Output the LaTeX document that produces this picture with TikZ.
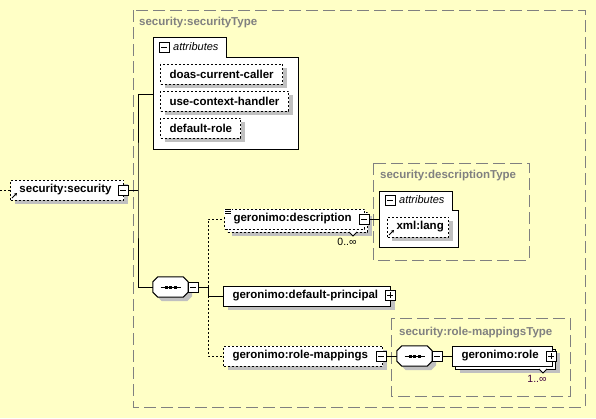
\documentclass[tikz,border=0pt]{standalone}
\usepackage{fontspec}
\setmainfont{Liberation Sans}
\usepackage{tikz}
\usetikzlibrary{shadows,arrows.meta}

\exhyphenpenalty=10000
\hyphenpenalty=10000

\definecolor{paper}{RGB}{255,255,198}
\definecolor{typegray}{RGB}{128,128,128}
\definecolor{shade}{RGB}{192,192,192}
\definecolor{occur}{RGB}{64,0,64}

\tikzset{
  elembox/.style={draw, fill=white, line width=1pt, anchor=west,
    inner xsep=9pt, inner ysep=0pt, minimum height=20pt,
    text width=#1, align=left,
    font=\fontsize{11.5}{13}\selectfont\bfseries},
  elem/.style={elembox=#1, drop shadow={shadow xshift=4pt, shadow yshift=-4pt, opacity=1, fill=shade}},
  optional/.style={dash pattern=on 2pt off 2pt},
  typebox/.style={draw=typegray, line width=1pt, dash pattern=on 12pt off 5pt},
  typename/.style={anchor=west, text=typegray, inner sep=0pt, font=\fontsize{11.5}{13}\selectfont\bfseries},
  attrgroup/.style={draw, fill=white, line width=1pt},
  attrname/.style={anchor=west, inner sep=0pt, font=\fontsize{11}{13}\selectfont\itshape},
  occ/.style={inner sep=0pt, font=\fontsize{10.5}{12}\selectfont},
  link/.style={line width=1pt},
  refarrow/.style={line width=1pt, -{Stealth[length=3pt,width=3.5pt]}},
  pmbox/.style={draw, fill=white, line width=0.8pt, minimum size=10pt, inner sep=0pt},
  collapse/.style={pmbox, path picture={
      \draw[line width=0.8pt] ([xshift=2pt]path picture bounding box.west) -- ([xshift=-2pt]path picture bounding box.east);}},
  expand/.style={pmbox, path picture={
      \draw[line width=0.8pt] ([xshift=2pt]path picture bounding box.west) -- ([xshift=-2pt]path picture bounding box.east);
      \draw[line width=0.8pt] ([yshift=-2pt]path picture bounding box.north) -- ([yshift=2pt]path picture bounding box.south);}},
  seqbox/.style={inner sep=0pt, minimum width=35pt, minimum height=20pt},
  seqedge/.style={draw, fill=white, line width=1pt,
    drop shadow={shadow xshift=4pt, shadow yshift=-4pt, opacity=1, fill=shade}}
}

% octagon of a sequence compositor, drawn round a named node
\newcommand{\seqoutline}[1]{%
  \draw[seqedge] ([xshift=5pt]#1.north west) -- ([xshift=-5pt]#1.north east)
    -- ([yshift=-5pt]#1.north east) -- ([yshift=5pt]#1.south east)
    -- ([xshift=-5pt]#1.south east) -- ([xshift=5pt]#1.south west)
    -- ([yshift=5pt]#1.south west) -- ([yshift=-5pt]#1.north west) -- cycle;
  \draw[link] ([xshift=-10pt]#1.center) -- ([xshift=10pt]#1.center);
  \foreach \dx in {-4.5,0,4.5}
    \fill ([xshift=\dx pt]#1.center) +(-1.5,-1.5) rectangle +(1.5,1.5);}

\begin{document}
\begin{tikzpicture}[x=1pt, y=-1pt]
% page and background
\fill[paper] (0,0) rectangle (596,418);
\useasboundingbox (0,0) rectangle (596,418);

% complex types
\draw[typebox] (133,10) rectangle (585,407);
\node[typename] (sectype) at (139,23) {security:securityType};
\draw[typebox] (373,163) rectangle (529,260);
\node[typename] (desctype) at (380,176) {security:descriptionType};
\draw[typebox] (391,318) rectangle (570,396);
\node[typename] (roletype) at (399,333) {security:role-mappingsType};

% attributes of security:securityType
\draw[attrgroup] (153,37) -- (226,37) -- (226,57) -- (298,57) -- (298,149) -- (153,149) -- cycle;
\node[collapse] (attam) at (164,47) {};
\node[attrname] (attat) at (173,47) {attributes};
\node[elem=104pt, optional] (doas) at (160,74) {doas-current-caller};
\node[elem=110pt, optional] (usectx) at (160,101) {use-context-handler};
\node[elem=62pt, optional] (defrole) at (160,128) {default-role};
\coordinate (attrsec) at (153,94);

% root element
\coordinate (start) at (0,190);
\node[elem=95pt, optional] (sec) at (10,190) {security:security};
\node[collapse] (secm) at (123,190) {};
\draw[link, optional] (start) -- (sec);
\draw[refarrow] ([xshift=2pt,yshift=2.5pt]sec.south west) -- ++(5,-5);

% sequence
\node[seqbox] (seqa) at (170.5,287) {};
\seqoutline{seqa}
\node[collapse] (seqam) at (193,287) {};
\coordinate (ja) at (138,190);
\draw[link] (secm) -- (ja);
\draw[link] (attrsec) -| (ja) |- (seqa);

% geronimo:description
\node[elem=122pt, optional] (descb) at (227,222) {};
\node[elembox=122pt, optional] (desc) at (224,219) {geronimo:description};
\fill[white] (desc.north west) rectangle ++(8,6);
\foreach \k in {0,2,4}
  \draw[line width=0.8pt] ([xshift=1pt,yshift=-\k pt-0.5pt]desc.north west) -- ++(6,0);
\node[collapse] (descm) at (364,219) {};
\draw[line width=0.8pt, fill=white] (349,232) -- (353,236) -- (357,232);
\node[occ] (descocc) at (347,242) {0..∞};

% attributes of security:descriptionType
\draw[attrgroup] (379,191) -- (452,191) -- (452,210) -- (458,210) -- (458,247) -- (379,247) -- cycle;
\node[collapse] (attbm) at (390,200) {};
\node[attrname] (attbt) at (399,200) {attributes};
\node[elem=43pt, optional] (xmllang) at (387,227) {xml:lang};
\draw[refarrow] ([xshift=2pt,yshift=2.5pt]xmllang.south west) -- ++(5,-5);
\coordinate (attrdesc) at (379,219);
\draw[link] (descm) -- (attrdesc);

% geronimo:default-principal
\node[elem=149pt] (defp) at (223,296) {geronimo:default-principal};
\node[expand] (defpp) at (390,295) {};

% geronimo:role-mappings
\node[elem=141pt, optional] (rolem) at (223,356) {geronimo:role-mappings};
\node[collapse] (rolemm) at (381,356) {};

% branches of the sequence
\coordinate (jb) at (208,287);
\draw[link] (seqam) -- (jb) |- (defp);
\draw[link, optional] (jb) |- (desc);
\draw[link, optional] (jb |- defp) |- (rolem);

% sequence of security:role-mappingsType
\node[seqbox] (seqb) at (414.5,356) {};
\seqoutline{seqb}
\node[collapse] (seqbm) at (437,356) {};
\draw[link] (rolemm) -- (seqb);

% geronimo:role
\node[elem=82pt] (roleb) at (455,359) {};
\node[elembox=82pt] (role) at (452,356) {geronimo:role};
\node[expand] (rolep) at (551,356) {};
\draw[line width=0.8pt, fill=white] (539,369) -- (543,373) -- (547,369);
\node[occ, text=occur] (roleocc) at (537,379) {1..∞};
\draw[link] (seqbm) -- (role);

\end{tikzpicture}
\end{document}
